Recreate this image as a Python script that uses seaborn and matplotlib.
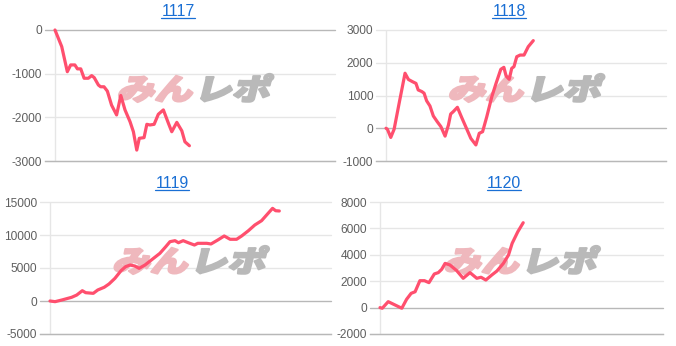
import matplotlib
matplotlib.use("Agg")
import matplotlib.pyplot as plt
import matplotlib.transforms as mtransforms
from matplotlib.textpath import TextPath
from matplotlib.patches import PathPatch
from matplotlib.font_manager import FontProperties
from matplotlib.lines import Line2D
import seaborn as sns
import pandas as pd

# ---------------- data ----------------
titles = ["1117", "1118", "1119", "1120"]

x_1117 = [0, 2.4, 4.4, 5.6, 7.1, 8.0, 9.2, 10.4, 11.9, 13.1, 14.0, 15.5, 16.3, 17.5,
          18.7, 20.2, 22.0, 23.5, 25.0, 26.8, 28.0, 29.2, 30.1, 31.8, 32.8, 33.9,
          35.4, 36.9, 38.7, 40.5, 41.7, 43.5, 45.3, 46.4, 48.0]
y_1117 = [0, -380, -955, -800, -800, -890, -890, -1105, -1105, -1045, -1090, -1260,
          -1300, -1300, -1400, -1720, -1945, -1500, -1830, -2100, -2330, -2750, -2480,
          -2465, -2160, -2175, -2160, -1930, -1830, -2135, -2330, -2115, -2310, -2560,
          -2650]

x_1118 = [0, 0.5, 1.7, 2.9, 4.8, 6.8, 8.0, 9.5, 10.7, 11.5, 12.8, 13.6, 14.5, 15.7,
          16.9, 18.3, 19.6, 21.1, 22.3, 23.1, 24.0, 25.5, 27.0, 29.0, 30.3, 32.1,
          33.3, 34.5, 36.0, 37.8, 39.3, 41.0, 42.1, 42.9, 44.0, 44.9, 45.7, 46.7,
          47.9, 49.3, 50.8, 52.6]
y_1118 = [0, -30, -280, -30, 810, 1680, 1490, 1420, 1370, 1170, 1120, 1070, 840, 680,
          375, 200, 50, -240, 100, 435, 505, 640, 335, -55, -310, -510, -155, -105,
          355, 965, 1370, 1800, 1860, 1595, 1495, 1830, 1880, 2185, 2235, 2235, 2490,
          2675]

x_1119 = [0, 1.8, 4.2, 7.7, 9.5, 11.5, 12.7, 15.4, 17.0, 19.3, 21.0, 23.1, 25.3, 26.9,
          28.5, 30.2, 31.7, 33.8, 36.4, 39.1, 41.2, 42.7, 44.5, 45.7, 47.4, 49.2,
          51.4, 52.6, 55.8, 57.3, 59.7, 62.0, 64.1, 66.4, 68.2, 70.6, 72.9, 75.3,
          77.4, 79.2, 80.3, 81.6]
y_1119 = [0, -100, 150, 560, 900, 1560, 1260, 1160, 1670, 2080, 2580, 3430, 4600,
          5200, 5450, 5300, 4950, 5450, 6320, 7220, 8230, 8990, 9140, 8830, 9140, 8830,
          8480, 8740, 8740, 8640, 9240, 9850, 9350, 9350, 9850, 10650, 11520, 12170,
          13180, 14040, 13680, 13640]

x_1120 = [0, 0.8, 2.9, 5.3, 7.7, 9.4, 11.0, 12.4, 14.1, 15.7, 17.3, 19.2, 20.6, 21.8,
          23.0, 24.7, 27.1, 29.4, 31.8, 34.2, 35.7, 37.4, 39.5, 41.3, 43.6, 45.4,
          46.7, 48.7, 50.6]
y_1120 = [0, -50, 450, 200, -50, 630, 1080, 1200, 2040, 2040, 1890, 2550, 2650, 2900,
          3350, 3230, 2800, 2220, 2650, 2220, 2300, 2090, 2470, 2770, 3350, 3980, 4870,
          5750, 6430]

xs = [x_1117, x_1118, x_1119, x_1120]
ys = [y_1117, y_1118, y_1119, y_1120]
ylims = [(-3000, 0), (-1000, 3000), (-5000, 15000), (-2000, 8000)]
ysteps = [1000, 1000, 5000, 2000]

# ---------------- style ----------------
sns.set_theme(style="white")
plt.rcParams["font.family"] = ["Liberation Sans", "DejaVu Sans"]
plt.rcParams["axes.unicode_minus"] = False

W, H = 676, 346
fig = plt.figure(figsize=(W / 100, H / 100), dpi=100)
fig.patch.set_facecolor("white")

# axes boxes in pixels: (left, right, top, bottom)
boxes = [(45, 335, 30, 161), (376, 666, 30, 161), (40, 331, 202, 334), (370, 663, 202, 334)]
title_pos = [(178, 11), (509, 11), (172, 184), (504, 184)]

line_color = "#ff4f6e"
title_color = "#1a6fd4"
grid_light = "#e6e6e6"
grid_dark = "#b8b8b8"

fp_wm = FontProperties(family="Noto Sans CJK JP", weight="heavy")

title_texts = []
for i in range(4):
    l, r, t, b = boxes[i]
    ax = fig.add_axes([l / W, 1 - b / H, (r - l) / W, (b - t) / H])
    df = pd.DataFrame({"x": xs[i], "y": ys[i]})

    lo, hi = ylims[i]
    ticks = list(range(lo, hi + 1, ysteps[i]))
    for tv in ticks:
        col = grid_dark if tv == 0 else grid_light
        ax.axhline(tv, color=col, lw=1.0, zorder=1, clip_on=False)
    ax.axvline(0, color=grid_light, lw=1.0, zorder=1)

    # watermark
    p1 = TextPath((0, 0), "みん", size=100, prop=fp_wm)
    e1 = p1.get_extents()
    p2 = TextPath((e1.x1 + 8, 0), "レポ", size=100, prop=fp_wm)
    e2 = p2.get_extents()
    x0, x1 = e1.x0, e2.x1
    y0, y1 = min(e1.y0, e2.y0), max(e1.y1, e2.y1)
    fx = ((l + r) / 2 - l) / (r - l) + 0.02
    fy = 1 - (88 - 30) / 131 if i < 2 else 1 - (260 - 202) / 132
    T = (mtransforms.Affine2D()
         .translate(-(x0 + x1) / 2, -(y0 + y1) / 2)
         .scale(150 / (x1 - x0), 28 / (y1 - y0))
         .skew_deg(14, 0)
         + mtransforms.ScaledTranslation(fx, fy, ax.transAxes))
    for pth, c in ((p1, "#efb8bd"), (p2, "#b9b9b9")):
        pp = PathPatch(pth, facecolor=c, edgecolor=c, lw=1.6, joinstyle="round",
                       transform=T, zorder=1.5)
        ax.add_artist(pp)

    sns.lineplot(data=df, x="x", y="y", ax=ax, color=line_color, lw=2.3,
                 zorder=3, clip_on=False, solid_joinstyle="round", solid_capstyle="round")

    ax.set_xlim(-10 / ((r - l - 10) / 100), 100)
    ax.set_ylim(lo, hi)
    ax.set_yticks(ticks)
    ax.set_yticklabels([str(tv) for tv in ticks])
    ax.set_xticks([])
    ax.set_xlabel("")
    ax.set_ylabel("")
    ax.tick_params(axis="y", length=0, pad=2, labelsize=8.6, labelcolor="#5f5f5f")
    for s in ["top", "right", "left"]:
        ax.spines[s].set_visible(False)
    ax.spines["bottom"].set_color(grid_dark)
    ax.spines["bottom"].set_linewidth(1.0)
    ax.set_facecolor("none")

    tx, ty = title_pos[i]
    tt = fig.text(tx / W, 1 - ty / H, titles[i], ha="center", va="center",
                  color=title_color, fontsize=11.5)
    title_texts.append(tt)

fig.canvas.draw()
renderer = fig.canvas.get_renderer()
for tt in title_texts:
    bb = tt.get_window_extent(renderer)
    yline = bb.y0 + 1
    fig.add_artist(Line2D([bb.x0 / W, bb.x1 / W], [yline / H, yline / H],
                          color=title_color, lw=0.9, transform=fig.transFigure))

fig.savefig("out.png", dpi=100, facecolor="white")
